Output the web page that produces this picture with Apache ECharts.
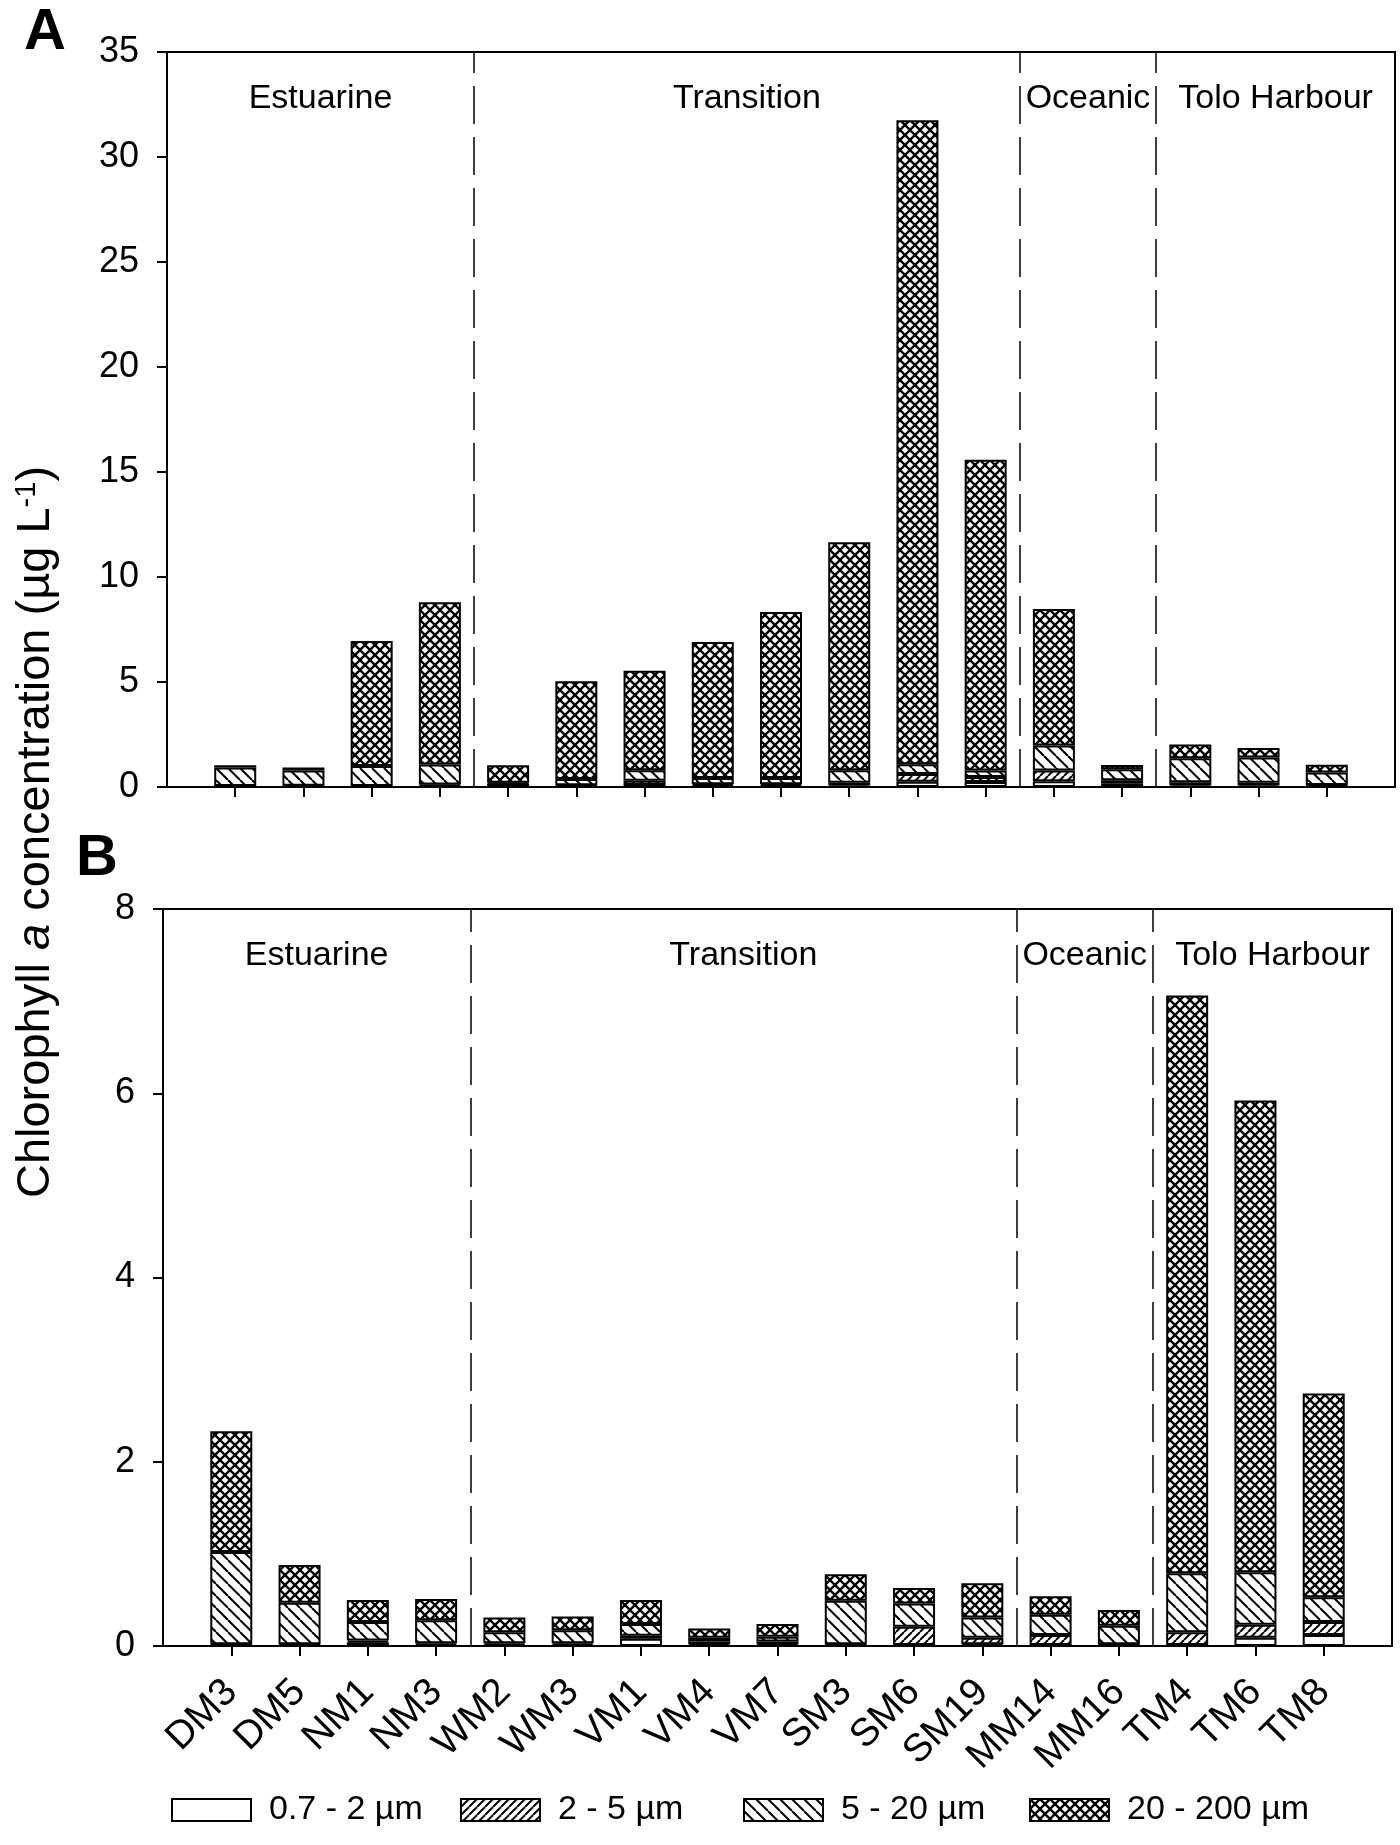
<!DOCTYPE html>
<html>
<head>
<meta charset="utf-8">
<script src="https://cdn.jsdelivr.net/npm/echarts/dist/echarts.min.js"></script>
<style>
html,body{margin:0;padding:0;background:#fff;}
#chart{width:1400px;height:1845px;}
</style>
</head>
<body>
<div id="chart"></div>
<script>
// ---------------- data ----------------
const stations = ['DM3','DM5','NM1','NM3','WM2','WM3','VM1','VM4','VM7','SM3','SM6','SM19','MM14','MM16','TM4','TM6','TM8'];
const groupNames = ['Estuarine','Transition','Oceanic','Tolo Harbour'];
const groupSizes = [4, 8, 2, 3];
const sizeClasses = ['0.7 - 2 \u00b5m','2 - 5 \u00b5m','5 - 20 \u00b5m','20 - 200 \u00b5m'];
const yTicksA = [0, 5, 10, 15, 20, 25, 30, 35];
const yTicksB = [0, 2, 4, 6, 8];

// Panel A (chlorophyll a, ug/L)
const A_pico   = [0.02, 0.02, 0.02, 0.05, 0.05, 0.03, 0.10, 0.05, 0.05, 0.08, 0.25, 0.24, 0.27, 0.15, 0.08, 0.08, 0.04];
const A_2_5    = [0.03, 0.04, 0.03, 0.07, 0.10, 0.05, 0.20, 0.08, 0.08, 0.12, 0.37, 0.24, 0.52, 0.17, 0.15, 0.12, 0.05];
const A_5_20   = [0.88, 0.72, 0.95, 0.95, 0.05, 0.30, 0.50, 0.30, 0.30, 0.60, 0.46, 0.30, 1.19, 0.53, 1.14, 1.21, 0.60];
const A_20_200 = [0.10, 0.15, 5.95, 7.73, 0.83, 4.65, 4.74, 6.47, 7.90, 10.85, 30.67, 14.80, 6.50, 0.20, 0.65, 0.45, 0.37];

// Panel B
const B_pico   = [0.01, 0.01, 0.04, 0.01, 0.01, 0.01, 0.08, 0.02, 0.02, 0.01, 0.01, 0.02, 0.01, 0.01, 0.01, 0.09, 0.12];
const B_2_5    = [0.01, 0.01, 0.02, 0.02, 0.02, 0.02, 0.03, 0.03, 0.03, 0.01, 0.20, 0.07, 0.11, 0.01, 0.14, 0.14, 0.14];
const B_5_20   = [1.00, 0.45, 0.20, 0.25, 0.12, 0.14, 0.13, 0.04, 0.05, 0.47, 0.25, 0.22, 0.22, 0.20, 0.64, 0.57, 0.27];
const B_20_200 = [1.31, 0.41, 0.24, 0.23, 0.16, 0.15, 0.26, 0.10, 0.14, 0.29, 0.17, 0.37, 0.20, 0.17, 6.27, 5.12, 2.21];

// ---------------- styling ----------------
const FONT = '"Liberation Sans", Arial, Helvetica, sans-serif';

function makePattern(kind) {
  if (kind === 'none') return '#ffffff';
  const s = kind === 'fwd' ? 8 : (kind === 'back' ? 12 : 10);
  const c = document.createElement('canvas');
  c.width = s; c.height = s;
  const g = c.getContext('2d');
  g.fillStyle = '#fff'; g.fillRect(0, 0, s, s);
  g.strokeStyle = '#000'; g.lineWidth = kind === 'cross' ? 2.3 : 2;
  const back = () => { for (let k = -1; k <= 1; k++) { g.beginPath(); g.moveTo(k * s, 0); g.lineTo(k * s + s, s); g.stroke(); } };
  const fwd = () => { for (let k = -1; k <= 1; k++) { g.beginPath(); g.moveTo(k * s, s); g.lineTo(k * s + s, 0); g.stroke(); } };
  if (kind === 'back') back();
  else if (kind === 'fwd') fwd();
  else { back(); fwd(); }
  return { image: c, repeat: 'repeat' };
}
const fills = [makePattern('none'), makePattern('fwd'), makePattern('back'), makePattern('cross')];

const panels = [
  [A_pico, A_2_5, A_5_20, A_20_200],
  [B_pico, B_2_5, B_5_20, B_20_200]
];
const yTicks = [yTicksA, yTicksB];

const cats = [''].concat(stations, ['']);
const nPos = cats.length - 1; // 18

const grids = [
  { left: 167, right: 5, top: 52, height: 735 },
  { left: 163, right: 8, top: 909, height: 737 }
];

const tickFilter = (idx) => idx > 0 && idx < nPos;

const xAxes = [];
const yAxes = [];
const series = [];

grids.forEach((gr, p) => {
  xAxes.push({
    type: 'category', gridIndex: p, data: cats, boundaryGap: false,
    axisLine: { show: true, lineStyle: { color: '#000', width: 2 } },
    axisTick: { show: true, length: 10, interval: tickFilter, lineStyle: { color: '#000', width: 2 } },
    axisLabel: p === 0 ? { show: false } : {
      show: true, interval: 0, rotate: 45, margin: 40,
      fontSize: 39, fontFamily: FONT, color: '#000'
    },
    splitLine: { show: false }
  });
  const t = yTicks[p];
  yAxes.push({
    type: 'value', gridIndex: p, min: t[0], max: t[t.length - 1], interval: t[1] - t[0],
    axisLine: { show: true, lineStyle: { color: '#000', width: 2 } },
    axisTick: { show: true, length: 10, lineStyle: { color: '#000', width: 2 } },
    axisLabel: { show: true, fontSize: 36, margin: 28, fontFamily: FONT, color: '#000' },
    splitLine: { show: false }
  });
});
// hidden value axes for region dividers / region labels
grids.forEach((gr, p) => {
  xAxes.push({ type: 'value', gridIndex: p, min: 0, max: nPos, show: false, splitLine: { show: false } });
});

// stacked bars
sizeClasses.forEach((name, k) => {
  panels.forEach((vals, p) => {
    series.push({
      type: 'bar', name: name, stack: 'panel' + p,
      xAxisIndex: p, yAxisIndex: p,
      barWidth: 42,
      data: [null].concat(vals[k], [null]),
      itemStyle: { color: fills[k], borderColor: '#000', borderWidth: 2 },
      emphasis: { disabled: true },
      silent: true
    });
  });
});

// region dividers and labels
grids.forEach((gr, p) => {
  const lines = [];
  const areas = [];
  let acc = 0;
  groupSizes.forEach((n, i) => {
    const start = i === 0 ? 0 : acc + 0.5;
    const end = i === groupSizes.length - 1 ? nPos : acc + n + 0.5;
    if (i > 0) lines.push({ xAxis: acc + 0.5 });
    areas.push([{ name: groupNames[i], xAxis: start }, { xAxis: end }]);
    acc += n;
  });
  series.push({
    type: 'line', xAxisIndex: 2 + p, yAxisIndex: p, data: [], silent: true,
    markLine: {
      silent: true, symbol: ['none', 'none'], animation: false,
      label: { show: false },
      lineStyle: { color: '#000', width: 1.5, type: [38, 13] },
      emphasis: { disabled: true },
      data: lines
    },
    markArea: {
      silent: true, animation: false,
      itemStyle: { color: 'rgba(0,0,0,0)' },
      label: { show: true, position: 'insideTop', distance: 30, fontSize: 34, fontFamily: FONT, color: '#000' },
      emphasis: { disabled: true },
      data: areas
    }
  });
});

const legendLeft = [171, 460, 743, 1029];
const legends = sizeClasses.map((name, i) => ({
  data: [name], left: legendLeft[i], top: 1793, padding: 0,
  orient: 'horizontal', icon: 'rect', itemWidth: 79, itemHeight: 22,
  selectedMode: false,
  itemStyle: { borderColor: '#000', borderWidth: 2 },
  textStyle: { fontSize: 34, fontFamily: FONT, color: '#000', padding: [0, 0, 0, 13] }
}));

const option = {
  animation: false,
  backgroundColor: '#fff',
  grid: grids.map(g => Object.assign({
    show: true, borderColor: '#000', borderWidth: 2, backgroundColor: 'transparent',
    containLabel: false, outerBoundsMode: 'none'
  }, g)),
  xAxis: xAxes,
  yAxis: yAxes,
  legend: legends,
  tooltip: { show: false },
  series: series,
  graphic: [
    { type: 'text', left: 24, top: 4, silent: true,
      style: { text: 'A', fontSize: 58, fontWeight: 'bold', fontFamily: FONT, fill: '#000' } },
    { type: 'text', left: 76, top: 830, silent: true,
      style: { text: 'B', fontSize: 58, fontWeight: 'bold', fontFamily: FONT, fill: '#000' } },
    { type: 'text', x: 36, y: 832, rotation: Math.PI / 2, silent: true,
      style: {
        text: '{n|Chlorophyll }{i|a}{n| concentration (\u00b5g L}{s|-1}{n|)}',
        align: 'center', verticalAlign: 'middle',
        textAlign: 'center', textVerticalAlign: 'middle',
        fontSize: 47, fontFamily: FONT, fill: '#000',
        rich: {
          n: { fontSize: 47, fontFamily: FONT, fill: '#000', color: '#000' },
          i: { fontSize: 47, fontFamily: FONT, fontStyle: 'italic', fill: '#000', color: '#000' },
          s: { fontSize: 29, fontFamily: FONT, fill: '#000', color: '#000', verticalAlign: 'top' }
        }
      } }
  ]
};

const chart = echarts.init(document.getElementById('chart'), null, { renderer: 'canvas' });
chart.setOption(option);
</script>
</body>
</html>
